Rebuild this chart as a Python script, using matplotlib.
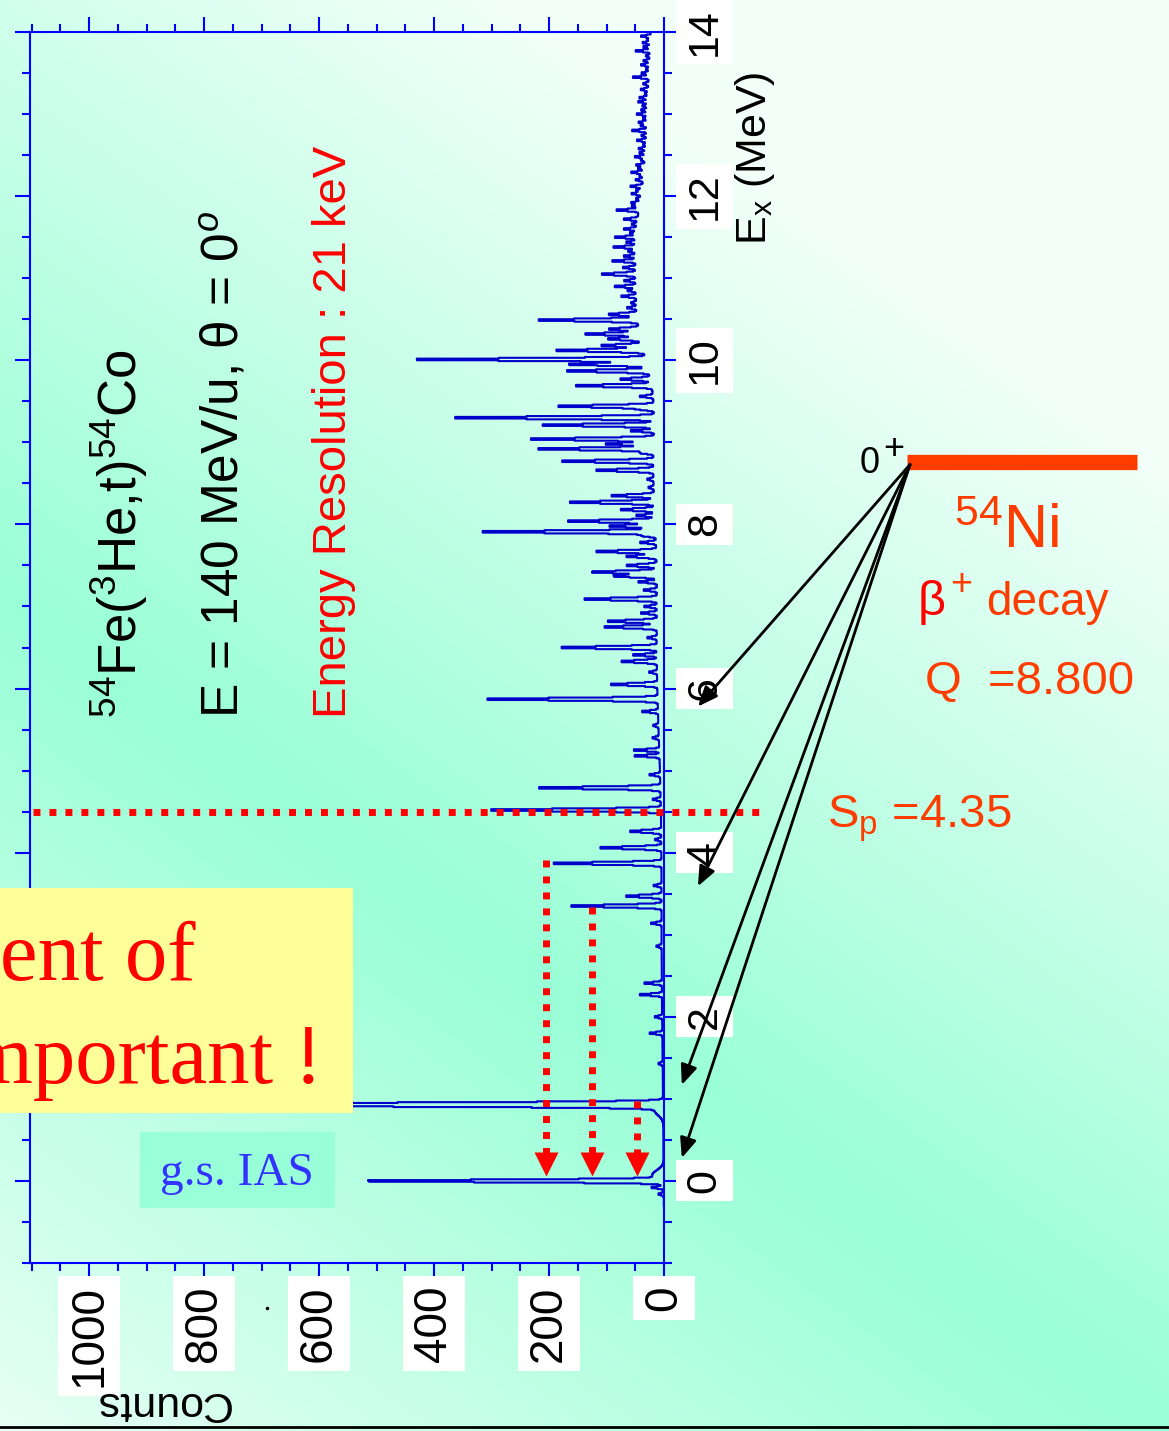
import numpy as np
import matplotlib
matplotlib.use("Agg")
from matplotlib import pyplot as plt
from matplotlib.patches import Rectangle
from matplotlib.lines import Line2D
from matplotlib.ticker import MultipleLocator

plt.rcParams['font.family'] = ['Liberation Sans', 'DejaVu Sans']
plt.rcParams['mathtext.fontset'] = 'custom'
plt.rcParams['mathtext.rm'] = 'Liberation Sans'
plt.rcParams['mathtext.it'] = 'Liberation Sans:italic'
plt.rcParams['mathtext.bf'] = 'Liberation Sans:bold'

# peaks: excitation energy (MeV) and counts
peak_ex = [-0.16, -0.08, 0.00, 0.93, 1.43, 1.80, 2.00, 2.27, 2.41, 2.86,
           3.14, 3.35, 3.47, 3.60, 3.87, 4.06, 4.16, 4.26, 4.52, 4.65,
           4.79, 4.95, 5.18, 5.25, 5.40, 5.55, 5.72, 5.87, 6.05, 6.20,
           6.33, 6.41, 6.50, 6.62, 6.75, 6.82, 6.92, 7.00, 7.09, 7.20,
           7.30, 7.37, 7.42, 7.50, 7.61, 7.67, 7.78, 7.86, 7.91, 7.98,
           8.04, 8.11, 8.18, 8.27, 8.35, 8.45, 8.55, 8.66, 8.77, 8.87,
           8.92, 8.98, 9.04, 9.14, 9.21, 9.30, 9.40, 9.44, 9.56, 9.69,
           9.77, 9.87, 9.95, 10.01, 10.12, 10.18, 10.26, 10.32, 10.38, 10.49,
           10.56, 10.64, 10.70, 10.78, 10.85, 10.90, 10.97, 11.05, 11.13, 11.21,
           11.27, 11.33, 11.38, 11.44, 11.50, 11.55, 11.60, 11.66, 11.72, 11.83,
           11.88, 11.92, 11.97, 12.03, 12.07, 12.12, 12.20, 12.25, 12.29, 12.34,
           12.38, 12.44, 12.48, 12.53, 12.58, 12.63, 12.68, 12.74, 12.80, 12.86,
           12.90, 12.95, 13.00, 13.05, 13.10, 13.15, 13.20, 13.25, 13.30, 13.37,
           13.45, 13.50, 13.55, 13.60, 13.65, 13.71, 13.77, 13.82, 13.87, 13.91,
           13.95]
peak_counts = [10, 22, 532, 1000, 8, 24, 14, 42, 33, 10,
               20, 166, 65, 15, 198, 112, 12, 57, 312, 15,
               223, 20, 47, 48, 12, 10, 30, 313, 85, 15,
               65, 45, 175, 18, 96, 90, 30, 24, 133, 25,
               35, 78, 118, 55, 55, 110, 30, 24, 318, 84,
               160, 35, 62, 155, 78, 10, 12, 105, 168, 24,
               212, 88, 226, 44, 205, 366, 24, 175, 25, 139,
               55, 150, 143, 421, 160, 75, 60, 100, 55, 182,
               52, 18, 10, 28, 16, 40, 22, 62, 24, 44,
               22, 14, 42, 18, 40, 12, 24, 10, 26, 42,
               14, 16, 8, 18, 10, 22, 14, 8, 24, 12,
               16, 8, 20, 12, 14, 6, 18, 10, 28, 12,
               16, 8, 20, 12, 10, 18, 16, 6, 14, 10,
               30, 14, 6, 16, 12, 8, 28, 14, 16, 8,
               20]
peak_width = 0.015

# broad underlying continuum and peak tails: centre, counts, width (MeV)
bg_ex = [0.07, 0.86, 3.0, 6.5, 8.8, 10.4, 11.4, 13.0]
bg_counts = [20, 15, 4, 12, 16, 30, 32, 28]
bg_width = [0.06, 0.06, 1.5, 1.2, 0.8, 0.5, 0.6, 1.3]

# annotation values
sp_ex = 4.50
sp_counts = [1097, -167]
red_arrow_counts = [205, 125, 47]
red_arrow_top = [3.91, 3.34, 0.98]
red_head_ex = 0.205
level_counts = [-423, -823]
level_ex = 8.76
origin_counts, origin_ex = -428, 8.73
black_arrow_counts = [-59, -59, -31, -31]
black_arrow_ex = [5.78, 3.59, 1.17, 0.28]

counts_ticks = [0, 200, 400, 600, 800, 1000]
ex_ticks = [0, 2, 4, 6, 8, 10, 12, 14]

W, H = 1169, 1431


def fx(x):
    return x / W


def fy(y):
    return 1 - y / H


fig = plt.figure(figsize=(W / 100, H / 100), dpi=100)

# slide background gradient
bg = fig.add_axes([0, 0, 1, 1])
bg.set_zorder(-10)
gx, gy = np.meshgrid(np.linspace(0, W, 240), np.linspace(0, H, 290))
u = gx / W - (gy - 600) / (H - 600)
f = np.clip(np.abs(u) / 1.15, 0, 1)[..., None]
aqua = np.array([153, 255, 214]) / 255
light = np.array([242, 255, 249]) / 255
bg.imshow(aqua + (light - aqua) * f, extent=[0, 1, 0, 1], aspect='auto',
          interpolation='bilinear', origin='upper')
bg.axis('off')

ax = fig.add_axes([fx(30), fy(1263), (664 - 30) / W, (1263 - 32) / H])
ax.set_facecolor('none')

# build spectrum as histogram
edges = np.arange(-0.30, 13.99, 0.01)
centres = (edges[:-1] + edges[1:]) / 2
spec = np.zeros_like(centres)
for e, c in zip(peak_ex, peak_counts):
    if c > 800:
        w = 0.02
    elif c < 50:
        w = 0.012
    else:
        w = peak_width
    spec += c * np.exp(-0.5 * ((centres - e) / w) ** 2)
for e, c, w in zip(bg_ex, bg_counts, bg_width):
    spec += c * np.exp(-0.5 * ((centres - e) / w) ** 2)
ys = np.repeat(edges, 2)[1:-1]
xs = np.repeat(spec, 2)
ax.plot(xs, ys, color='#0000cc', lw=1.5, zorder=2)

ax.set_xlim(1103, 0)
ax.set_ylim(-1, 14)

for s in ax.spines.values():
    s.set_color('#0000ff')
    s.set_linewidth(1.5)

ax.set_xticks(counts_ticks)
ax.set_xticklabels([str(t) for t in counts_ticks], rotation=90,
                   bbox=dict(facecolor='white', edgecolor='none', pad=2))
ax.set_yticks(ex_ticks)
ax.set_yticklabels([str(t) for t in ex_ticks], rotation=90, va='center',
                   bbox=dict(facecolor='white', edgecolor='none', pad=2))
ax.xaxis.set_minor_locator(MultipleLocator(50))
ax.yaxis.set_minor_locator(MultipleLocator(0.5))
ax.tick_params(which='both', direction='out', top=True, bottom=True,
               left=True, right=True, labelleft=False, labelright=True,
               labeltop=False, labelbottom=True, color='#0000ff', width=1.5)
ax.tick_params(which='major', length=11)
ax.tick_params(which='minor', length=6)
ax.tick_params(axis='x', labelsize=33, pad=5)
ax.tick_params(axis='y', labelsize=31, pad=4)

# separation energy line and red arrows
dots = (0, (1, 1.3))
ax.plot(sp_counts, [sp_ex, sp_ex], color='red', lw=5, ls=dots,
        clip_on=False, zorder=3)
for c, top in zip(red_arrow_counts, red_arrow_top):
    ax.plot([c, c], [top, red_head_ex + 0.14], color='red', lw=5, ls=dots,
            zorder=3)
    ax.plot([c], [red_head_ex], marker='v', ms=17, color='red', mec='none',
            zorder=3)

# 54Ni level and decay arrows
ax.plot(level_counts, [level_ex, level_ex], color='#ff3c00', lw=11,
        solid_capstyle='butt', clip_on=False)
for c, e in zip(black_arrow_counts, black_arrow_ex):
    ax.annotate('', xy=(c, e), xytext=(origin_counts, origin_ex),
                annotation_clip=False,
                arrowprops=dict(arrowstyle='-|>,head_length=1.2,head_width=0.5',
                                mutation_scale=10, color='black', lw=2,
                                shrinkA=0, shrinkB=0))

# rotated reaction texts
fig.text(fx(119), fy(718), r'$^{54}$Fe($^{3}$He,t)$^{54}$Co', rotation=90,
         ha='center', va='bottom', fontsize=38)
fig.text(fx(225), fy(718), r'E = 140 MeV/u, θ = 0$^{o}$', rotation=90,
         ha='center', va='bottom', fontsize=37)
fig.text(fx(334), fy(718), 'Energy Resolution : 21 keV', rotation=90,
         ha='center', va='bottom', fontsize=34, color='#ff0000')
fig.text(fx(755), fy(245), r'E$_{\mathrm{x}}$ (MeV)', rotation=90,
         ha='center', va='bottom', fontsize=31)
fig.text(fx(162), fy(1403), 'Counts', rotation=180, ha='center',
         va='center', fontsize=31)

# right side level scheme texts
orange = '#ff3c00'
fig.text(fx(860), fy(473), '0', fontsize=26, ha='left', va='baseline')
fig.text(fx(894), fy(449), '+', fontsize=26, ha='center', va='center')
fig.text(fx(954), fy(548), r'$^{54}$Ni', fontsize=44, color=orange)
fig.text(fx(918), fy(615), 'β', fontsize=35, color='#ff0000')
fig.text(fx(961), fy(585), '+', fontsize=27, ha='center', va='center',
         color=orange)
fig.text(fx(986), fy(615), 'decay', fontsize=33, color=orange)
fig.text(fx(925), fy(694), 'Q  =8.800', fontsize=34, color=orange)
fig.text(fx(827), fy(828), r'S$_{\mathrm{p}}$ =4.35', fontsize=34,
         color=orange)

# slide boxes
fig.add_artist(Rectangle((0, fy(1113)), fx(353), (1113 - 888) / H,
                         transform=fig.transFigure, facecolor='#ffff99',
                         edgecolor='none', zorder=4))
fig.text(fx(0), fy(980), 'ent of', fontsize=61, color='#ff0000',
         family='Liberation Serif', zorder=5)
fig.text(fx(-33), fy(1083), 'mportant !', fontsize=61, color='#ff0000',
         family='Liberation Serif', zorder=5)
fig.add_artist(Rectangle((fx(140), fy(1208)), (335 - 140) / W,
                         (1208 - 1132) / H, transform=fig.transFigure,
                         facecolor='#99ffd8', edgecolor='none', zorder=4))
fig.text(fx(237), fy(1185), 'g.s. IAS', fontsize=34, color='#3333ff',
         family='Liberation Serif', ha='center', zorder=5)

fig.add_artist(Line2D([fx(267)], [fy(1308)], marker='o', ms=1.5,
                      color='black'))
fig.add_artist(Line2D([0, 1], [fy(1427), fy(1427)], color='black', lw=2))

fig.savefig('out.png', dpi=100)
